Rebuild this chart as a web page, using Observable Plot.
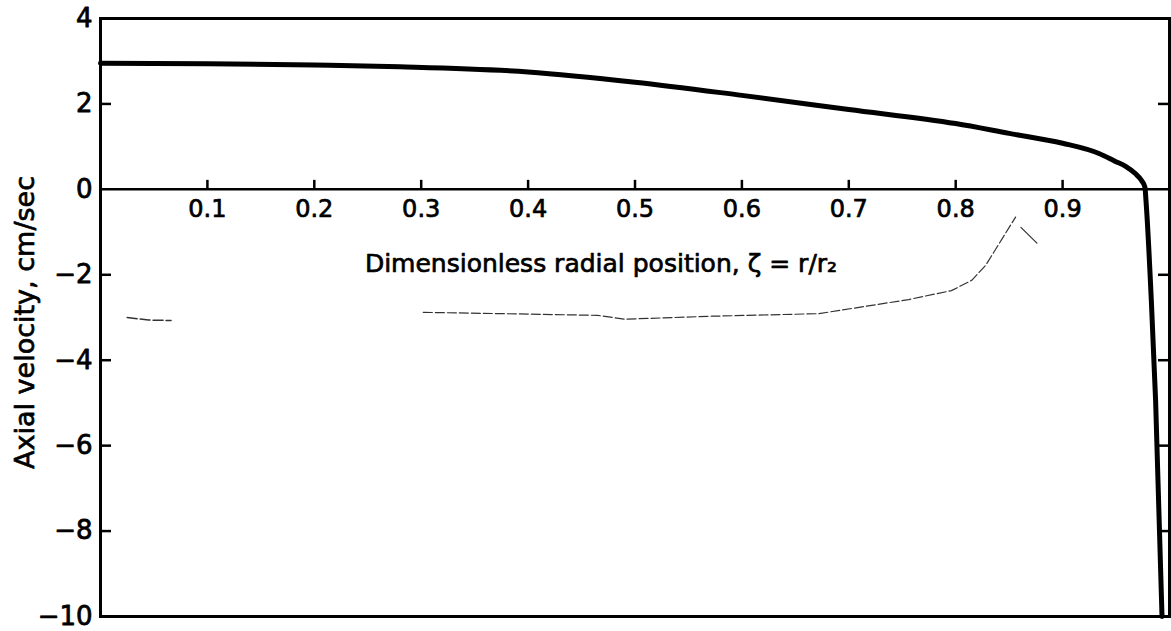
<!DOCTYPE html>
<html><head><meta charset="utf-8">
<script src="https://cdn.jsdelivr.net/npm/d3@7"></script>
<script src="https://cdn.jsdelivr.net/npm/@observablehq/plot@0.6"></script>
<style>html,body{margin:0;padding:0;background:#fff} svg{display:block}</style>
</head><body><div id="chart"></div>
<script>
// ---- data ----
const zeta     = [0, 0.1, 0.2, 0.28, 0.4, 0.5, 0.6, 0.7, 0.8, 0.85, 0.9, 0.934, 0.949, 0.959, 0.968, 0.974, 0.977, 0.978, 0.983, 0.987, 0.993];
const velocity = [2.95, 2.94, 2.91, 2.87, 2.75, 2.51, 2.20, 1.87, 1.54, 1.31, 1.08, 0.84, 0.66, 0.54, 0.37, 0.20, 0.05, -0.26, -2.6, -4.94, -10];

// faint stray pencil strokes visible on the scan
const strayZeta = [0.302, 0.40, 0.465, 0.49, 0.572, 0.672, 0.756, 0.796, 0.815, 0.828, 0.856];
const strayV    = [-2.88, -2.92, -2.95, -3.04, -2.97, -2.91, -2.58, -2.37, -2.13, -1.78, -0.65];
const stray2Zeta = [0.861, 0.876];
const stray2V    = [-0.89, -1.26];
const stray3Zeta = [0.025, 0.045, 0.066];
const stray3V    = [-3.0, -3.06, -3.07];

const xTicks = [0.1, 0.2, 0.3, 0.4, 0.5, 0.6, 0.7, 0.8, 0.9];
const xTickLabels = ["0.1", "0.2", "0.3", "0.4", "0.5", "0.6", "0.7", "0.8", "0.9"];
const yTicks = [4, 2, 0, -2, -4, -6, -8, -10];
const yTickLabels = ["4", "2", "0", "−2", "−4", "−6", "−8", "−10"];
const yMinorMarks = [2, -2, -4, -6, -8];
const xTitle = "Dimensionless radial position, ζ = r/r₂";
const yTitle = "Axial velocity, cm/sec";

// ---- layout ----
const W = 1171, H = 631, mL = 100, mR = 2, mT = 18, mB = 15;
const plotW = W - mL - mR;
const yPix = d3.scaleLinear([-10, 4], [H - mB, mT]);
const y0 = yPix(0);
const font = "'DejaVu Sans', sans-serif";

const curve = zeta.map((z, i) => ({z, v: velocity[i]}));
const toPts = (a, b) => a.map((z, i) => ({z, v: b[i]}));

const chart = Plot.plot({
  width: W, height: H,
  marginLeft: mL, marginRight: mR, marginTop: mT, marginBottom: mB,
  style: {fontFamily: font, background: "#fff", color: "#000"},
  x: {domain: [0, 1], axis: null},
  y: {domain: [-10, 4], axis: null},
  marks: [
    Plot.line(toPts(strayZeta, strayV), {x: "z", y: "v", stroke: "#333", strokeWidth: 1.2, strokeDasharray: "9,3"}),
    Plot.line(toPts(stray2Zeta, stray2V), {x: "z", y: "v", stroke: "#333", strokeWidth: 1.2}),
    Plot.line(toPts(stray3Zeta, stray3V), {x: "z", y: "v", stroke: "#333", strokeWidth: 1.5, strokeDasharray: "10,3"}),
    Plot.frame({stroke: "#000", strokeWidth: 3}),
    Plot.ruleY([0], {stroke: "#000", strokeWidth: 2.5}),
    Plot.tickY(yMinorMarks, {y: d => d, insetRight: plotW - 11, stroke: "#000", strokeWidth: 2.5}),
    Plot.tickY(yMinorMarks, {y: d => d, insetLeft: plotW - 11, stroke: "#000", strokeWidth: 2.5}),
    Plot.tickX(xTicks, {x: d => d, insetTop: y0 - 9 - mT, insetBottom: H - mB - y0, stroke: "#000", strokeWidth: 2.5}),
    Plot.text(yTicks, {y: d => d, frameAnchor: "left", textAnchor: "end", dx: -8, text: (d, i) => yTickLabels[i], fontSize: 26, fill: "#000", stroke: "#000", strokeWidth: 0.8}),
    Plot.text(xTicks, {x: d => d, y: 0, dy: 20, text: (d, i) => xTickLabels[i], fontSize: 24, fill: "#000", stroke: "#000", strokeWidth: 0.7}),
    Plot.line(curve, {x: "z", y: "v", stroke: "#000", strokeWidth: 5, curve: "monotone-x", strokeLinejoin: "round"}),
    Plot.text([xTitle], {frameAnchor: "top", textAnchor: "middle", dx: -34, dy: 236, text: d => d, fontSize: 25, fill: "#000", stroke: "#000", strokeWidth: 0.7}),
    Plot.text([yTitle], {frameAnchor: "left", textAnchor: "middle", rotate: -90, dx: -75, dy: 5, text: d => d, fontSize: 27, fill: "#000", stroke: "#000", strokeWidth: 0.7})
  ]
});
document.getElementById("chart").append(chart);
</script>
</body></html>
